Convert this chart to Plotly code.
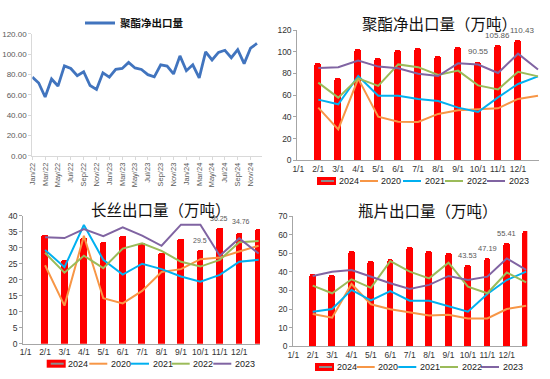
import plotly.graph_objects as go

W, H = 550, 379

# ---------------- data ----------------
months = ["Jan/22", "Feb/22", "Mar/22", "Apr/22", "May/22", "Jun/22", "Jul/22", "Aug/22", "Sep/22", "Oct/22", "Nov/22", "Dec/22",
          "Jan/23", "Feb/23", "Mar/23", "Apr/23", "May/23", "Jun/23", "Jul/23", "Aug/23", "Sep/23", "Oct/23", "Nov/23", "Dec/23",
          "Jan/24", "Feb/24", "Mar/24", "Apr/24", "May/24", "Jun/24", "Jul/24", "Aug/24", "Sep/24", "Oct/24", "Nov/24", "Dec/24"]
net_export = [77.3, 71.5, 57.7, 75.5, 68.5, 88.3, 85.8, 78.6, 82.6, 69.0, 65.2, 81.5,
              77.3, 85.0, 85.8, 91.8, 86.3, 84.8, 79.7, 77.6, 89.3, 88.2, 80.4, 98.2,
              83.6, 89.4, 76.5, 102.2, 94.2, 101.6, 103.7, 96.4, 104.3, 90.55, 105.86, 110.43]

date_labels = ["1/1", "2/1", "3/1", "4/1", "5/1", "6/1", "7/1", "8/1", "9/1", "10/1", "11/1", "12/1"]
series_names = ["2024", "2020", "2021", "2022", "2023"]

# 聚酯净出口量（万吨）
pe_2024 = [89.4, 75.9, 102.3, 94.0, 101.7, 103.8, 96.4, 104.4, 90.55, 105.86, 110.43, None]
pe_2020 = [48.5, 28.5, 75.2, 40.2, 35.6, 35.3, 42.7, 46.0, 47.0, 47.9, 56.5, 59.5]
pe_2021 = [55.9, 51.6, 77.7, 59.5, 59.5, 56.5, 54.6, 48.5, 44.5, 58.0, 70.3, 77.3]
pe_2022 = [71.5, 57.7, 75.5, 68.5, 88.3, 85.8, 78.6, 82.6, 69.0, 65.2, 81.5, 77.3]
pe_2023 = [85.0, 85.8, 91.8, 86.3, 84.8, 79.7, 77.6, 89.3, 88.2, 80.4, 98.2, 83.6]

# 长丝出口量（万吨）
fy_2024 = [34.0, 26.1, 33.2, 32.0, 33.9, 31.6, 28.5, 32.7, 29.5, 36.25, 34.76, 35.9]
fy_2020 = [24.5, 11.9, 33.7, 14.2, 12.6, 16.5, 22.4, 23.3, 26.4, 26.9, 28.8, 30.6]
fy_2021 = [29.3, 23.9, 37.1, 26.2, 21.6, 25.0, 23.3, 21.0, 19.4, 21.5, 25.6, 26.2]
fy_2022 = [28.4, 22.2, 27.5, 23.6, 29.7, 31.4, 29.0, 25.6, 24.1, 26.2, 31.7, 32.1]
fy_2023 = [33.3, 33.0, 35.8, 33.6, 36.4, 33.8, 30.6, 37.2, 37.2, 27.5, 32.9, 28.2]

# 瓶片出口量（万吨）
bc_2024 = [38.9, 38.1, 51.3, 45.6, 47.1, 53.2, 51.3, 50.3, 43.53, 47.19, 55.41, 61.8]
bc_2020 = [17.4, 15.4, 33.5, 22.6, 19.9, 18.1, 16.6, 17.0, 15.0, 15.0, 20.0, 21.8]
bc_2021 = [18.6, 20.0, 30.3, 24.7, 29.7, 24.5, 24.5, 21.6, 18.6, 28.1, 35.6, 40.1]
bc_2022 = [32.6, 28.5, 36.0, 31.4, 45.8, 40.1, 36.5, 44.9, 32.0, 28.5, 39.6, 34.4]
bc_2023 = [37.8, 40.1, 41.0, 37.4, 33.9, 30.8, 33.0, 37.8, 35.6, 37.4, 47.2, 41.0]

labelled_idx = [8, 9, 10]  # bars carrying value labels (10/1, 11/1, 12/1)

# ---------------- styling ----------------
RED = "#FF0000"
LINE_COLORS = {"2020": "#F79646", "2021": "#00B0F0", "2022": "#9BBB59", "2023": "#8064A2"}
NUM_FONT = "Liberation Sans, Arial, sans-serif"
CJK_FONT = "Noto Sans CJK SC, sans-serif"


def px(x):
    return x / W


def py(y):
    return 1 - y / H


fig = go.Figure()

# ---- top-left line chart ----
fig.add_trace(go.Scatter(x=list(range(len(months))), y=net_export, mode="lines",
                         line=dict(color="#4174BE", width=2.8), name="聚酯净出口量",
                         xaxis="x", yaxis="y", showlegend=True))

xpos = list(range(1, 13))
panels = [
    ("x2", "y2", [pe_2024, pe_2020, pe_2021, pe_2022, pe_2023]),
    ("x3", "y3", [fy_2024, fy_2020, fy_2021, fy_2022, fy_2023]),
    ("x4", "y4", [bc_2024, bc_2020, bc_2021, bc_2022, bc_2023]),
]
label_style = {"x2": (8, [(0, 10), (-1, 10), (4, 10)]),
               "x3": (7, [(0, 9), (-1, 9), (2, 11)]),
               "x4": (7.5, [(0, 10), (0, 10), (0, 10)])}
annotations = []
for xa, ya, series in panels:
    bars = series[0]
    fig.add_trace(go.Bar(x=xpos, y=bars, width=0.35, marker=dict(color=RED, cornerradius="50%",
                                                                   line=dict(width=0)),
                         name="2024", xaxis=xa, yaxis=ya, showlegend=False))
    for nm, vals in zip(series_names[1:], series[1:]):
        fig.add_trace(go.Scatter(x=xpos, y=vals, mode="lines", line=dict(color=LINE_COLORS[nm], width=2),
                                 name=nm, xaxis=xa, yaxis=ya, showlegend=False))
    fsize, shifts = label_style[xa]
    for k, i in enumerate(labelled_idx):
        dx, dy = shifts[k]
        annotations.append(dict(x=xpos[i], y=bars[i], xref=xa, yref=ya, text=f"{bars[i]:g}",
                                showarrow=False, xshift=dx, yshift=dy, yanchor="middle",
                                font=dict(family=NUM_FONT, size=fsize, color="#595959")))

# ---- axes ----
gray_tick = dict(family=NUM_FONT, size=8.5, color="#333333")
layout_axes = dict(
    xaxis=dict(domain=[px(32.3), px(262)], range=[0, 35.78], tickmode="array",
               tickvals=list(range(0, 36, 2)), ticktext=months[::2], tickangle=-90,
               tickfont=dict(family=NUM_FONT, size=7.5, color="#595959"),
               showline=True, linecolor="#D9D9D9", linewidth=1, ticks="outside", ticklen=3,
               tickcolor="#D9D9D9", showgrid=False, zeroline=False, anchor="y", automargin=False),
    yaxis=dict(domain=[py(155.7), py(33.7)], range=[0, 120], tickvals=list(range(0, 121, 20)),
               tickformat=".2f", tickfont=dict(family=NUM_FONT, size=8, color="#595959"),
               showline=True, linecolor="#D9D9D9", linewidth=1, ticks="outside", ticklen=3,
               tickcolor="#D9D9D9", showgrid=False, zeroline=False, anchor="x", automargin=False),
)
specs = {
    "2": dict(xd=[297.3, 539], xr=[-0.05, 12.05], yd=[160.3, 30], yr=[0, 120], dt=20),
    "3": dict(xd=[23.3, 260], xr=[-0.12, 12.07], yd=[343.7, 215.7], yr=[0, 40], dt=5),
    "4": dict(xd=[293.3, 527.3], xr=[0, 12.06], yd=[346.3, 216], yr=[0, 70], dt=10),
}
for k, s in specs.items():
    layout_axes["xaxis" + k] = dict(domain=[px(s["xd"][0]), px(s["xd"][1])], range=s["xr"],
                                    tickmode="array", tickvals=list(range(12)), ticktext=date_labels,
                                    tickfont=gray_tick, tickangle=0, showline=True, linecolor="#A6A6A6",
                                    linewidth=1, ticks="", showgrid=False, zeroline=False,
                                    anchor="y" + k, automargin=False)
    layout_axes["yaxis" + k] = dict(domain=[py(s["yd"][0]), py(s["yd"][1])], range=s["yr"],
                                    dtick=s["dt"], tickfont=gray_tick, showline=True,
                                    linecolor="#A6A6A6", linewidth=1, ticks="outside", ticklen=3,
                                    tickcolor="#A6A6A6", showgrid=False, zeroline=False,
                                    anchor="x" + k, automargin=False)

# ---- titles ----
titles = [("聚酯净出口量（万吨）", 439, 23.3), ("长丝出口量（万吨）", 161, 209), ("瓶片出口量（万吨）", 427.5, 210)]
for t, cx, cy in titles:
    annotations.append(dict(x=px(cx), y=py(cy), xref="paper", yref="paper", text=t, showarrow=False,
                            xanchor="center", yanchor="middle",
                            font=dict(family=CJK_FONT, size=15.5, color="#111111")))

# ---- manual legends for the three seasonal panels ----
shapes = []
legend_rows = [([317, 360, 403, 445, 487], 181), ([46.7, 89.3, 131, 171.7, 213.3], 363.7),
               ([315, 356.7, 398.3, 440, 481], 367)]
for starts, ly in legend_rows:
    for nm, x0 in zip(series_names, starts):
        if nm == "2024":
            shapes.append(dict(type="rect", xref="paper", yref="paper", x0=px(x0), x1=px(x0 + 19),
                               y0=py(ly + 4), y1=py(ly - 4), fillcolor=RED, line=dict(width=0)))
            shapes.append(dict(type="line", xref="paper", yref="paper", x0=px(x0 + 4), x1=px(x0 + 17),
                               y0=py(ly), y1=py(ly), line=dict(color="#8C8C8C", width=2)))
        else:
            shapes.append(dict(type="line", xref="paper", yref="paper", x0=px(x0), x1=px(x0 + 18),
                               y0=py(ly), y1=py(ly), line=dict(color=LINE_COLORS[nm], width=2)))
        annotations.append(dict(x=px(x0 + 19.5), y=py(ly), xref="paper", yref="paper", text=nm,
                                showarrow=False, xanchor="left", yanchor="middle",
                                font=dict(family=NUM_FONT, size=9, color="#222222")))

fig.update_layout(
    width=W, height=H, autosize=False,
    margin=dict(l=0, r=0, t=0, b=0, pad=0, autoexpand=False),
    paper_bgcolor="white", plot_bgcolor="white",
    bargap=0, barmode="overlay",
    annotations=annotations, shapes=shapes,
    legend=dict(x=px(80), y=py(23), xanchor="left", yanchor="middle", orientation="h",
                bgcolor="rgba(0,0,0,0)", borderwidth=0,
                font=dict(family=CJK_FONT, size=10.5, color="#111111", weight="bold")),
    **layout_axes,
)

fig.write_html("out.html", config={"displayModeBar": False},
               post_script="document.body.style.margin='0px';document.body.style.overflow='hidden';")
